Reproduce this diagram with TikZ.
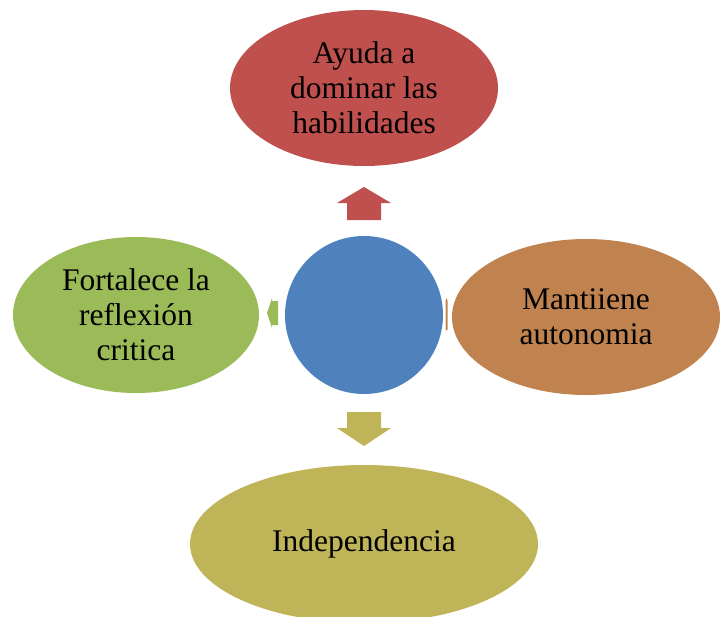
\documentclass[tikz,border=0pt]{standalone}
\usepackage{fontspec}
\setmainfont{Liberation Serif}
\usetikzlibrary{shapes.geometric}
\definecolor{hubblue}{HTML}{4F81BD}
\definecolor{topred}{HTML}{C0504D}
\definecolor{leftgreen}{HTML}{9BBB59}
\definecolor{rightorange}{HTML}{C0834F}
\definecolor{bottomolive}{HTML}{BFB558}

\begin{document}
\begin{tikzpicture}[x=1pt,y=-1pt,
	bubble/.style={ellipse,inner sep=0pt,minimum width=268pt,minimum height=156pt,
		align=center,font=\fontsize{31.5}{35}\selectfont},
	hub/.style={circle,fill=hubblue,inner sep=0pt,minimum size=158pt}]
	\useasboundingbox (0,0) rectangle (720,616);
	\node (hub) [hub] at (364,315) {};
	\node (ayuda) [bubble,fill=topred] at (364,88) {Ayuda a\\dominar las\\habilidades};
	\node (fortalece) [bubble,fill=leftgreen,minimum width=246pt] at (136,315) {Fortalece la\\reflexión\\critica};
	\node (mantiene) [bubble,fill=rightorange] at (586,317) {Mantiiene\\autonomia};
	\node (indep) [bubble,fill=bottomolive,minimum width=348pt,minimum height=158pt] at (364,544) {Independencia};
	% block arrows from the hub
	\fill[topred] (347,220) -- (347,203) -- (337,203) -- (364,187) -- (391,203) -- (381,203) -- (381,220) -- cycle;
	\fill[bottomolive] (347,412) -- (347,428) -- (337,428) -- (364,446) -- (391,428) -- (381,428) -- (381,412) -- cycle;
	\fill[leftgreen] (278,301) -- (272,301) -- (272,298) -- (267,313) -- (272,328) -- (272,325) -- (278,325) -- cycle;
	\fill[rightorange] (445.5,301) -- (446.5,298) -- (447.5,301) -- (447.5,330) -- (445.5,330) -- cycle;
\end{tikzpicture}
\end{document}
